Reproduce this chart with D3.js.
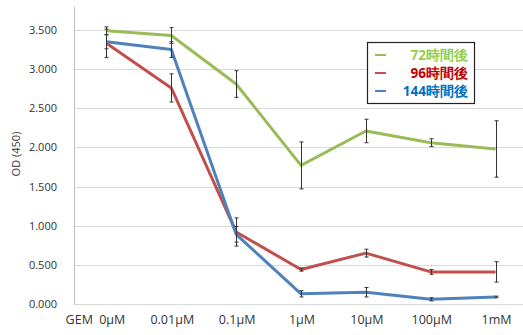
<!DOCTYPE html>
<html><head><meta charset="utf-8">
<script src="https://cdn.jsdelivr.net/npm/d3@7"></script>
<style>body{margin:0;background:#fff}svg{display:block}text{font-family:"Open Sans","Noto Sans",sans-serif}</style>
</head><body>
<svg id="c" width="523" height="335"></svg>
<script>
const categories = ["GEM 0μM","0.01μM","0.1μM","1μM","10μM","100μM","1mM"];
const seriesNames = ["72時間後","96時間後","144時間後"];
const values72 = [3.49,3.43,2.81,1.77,2.21,2.06,1.98];
const errors72 = [0.05,0.10,0.17,0.30,0.15,0.05,0.36];
const values96 = [3.33,2.76,0.92,0.44,0.65,0.41,0.41];
const errors96 = [0.18,0.18,0.18,0.02,0.05,0.03,0.13];
const values144 = [3.35,3.25,0.89,0.13,0.15,0.06,0.09];
const errors144 = [0.09,0.10,0.10,0.04,0.06,0.02,0.01];
const yTicks = [0,0.5,1,1.5,2,2.5,3,3.5];
const yTitle = "OD (450)";

const lineColors = ["#9bbb59","#c0504d","#4f81bd"];
const textColors = ["#92d050","#c00000","#0070c0"];
const series = [
  {name:seriesNames[0], v:values72, e:errors72},
  {name:seriesNames[1], v:values96, e:errors96},
  {name:seriesNames[2], v:values144, e:errors144}
];

const svg = d3.select("#c");
const x = d3.scaleBand().domain(categories).range([74, 528]);
const y = d3.scaleLinear().domain([0, 3.5]).range([304, 30]);
const cx = c => x(c) + x.bandwidth()/2;

// gridlines
svg.append("g").selectAll("line").data(yTicks).join("line")
  .attr("x1",74).attr("x2",523).attr("y1",d=>Math.round(y(d))+0.5).attr("y2",d=>Math.round(y(d))+0.5)
  .attr("stroke","#d9d9d9").attr("stroke-width",1);
// y axis line
svg.append("line").attr("x1",74.5).attr("x2",74.5).attr("y1",7).attr("y2",Math.round(y(0))+0.5)
  .attr("stroke","#bfbfbf");

// y tick labels
const yAxis = d3.axisLeft(y).tickValues(yTicks).tickFormat(d3.format(".3f")).tickSize(0).tickPadding(0);
const ya = svg.append("g").attr("transform","translate(57,0)").call(yAxis);
ya.select(".domain").remove();
ya.selectAll("text").attr("font-size",11).attr("fill","#333").attr("font-family","'Open Sans',sans-serif");

// x tick labels
const xAxis = d3.axisBottom(x).tickSize(0).tickPadding(0);
const xa = svg.append("g").attr("transform","translate(0,315)").call(xAxis);
xa.select(".domain").remove();
xa.selectAll("text").attr("font-size",12.5).attr("fill","#333").attr("font-family","'Open Sans',sans-serif")
  .attr("word-spacing",(d,i)=> i===0 ? 3 : 0)
  .attr("dx",(d,i)=> i===0 ? -11 : 1);

// y title
svg.append("text").attr("transform","translate(20,154) rotate(-90)").attr("text-anchor","middle")
  .attr("font-size",11).attr("fill","#333").text(yTitle);

// lines
const line = d3.line().x((d,i)=>cx(categories[i])).y(d=>y(d));
series.forEach((s,k)=>{
  svg.append("path").datum(s.v).attr("d",line).attr("fill","none")
    .attr("stroke",lineColors[k]).attr("stroke-width",3).attr("stroke-linejoin","round");
});
// error bars
series.forEach((s,k)=>{
  const g = svg.append("g").attr("stroke","#333").attr("stroke-width",1);
  s.v.forEach((v,i)=>{
    const px = Math.round(cx(categories[i]))+0.5;
    const t = y(v+s.e[i]), b = y(v-s.e[i]);
    g.append("line").attr("x1",px).attr("x2",px).attr("y1",t).attr("y2",b);
    g.append("line").attr("x1",px-2).attr("x2",px+2).attr("y1",t).attr("y2",t);
    g.append("line").attr("x1",px-2).attr("x2",px+2).attr("y1",b).attr("y2",b);
  });
});

// legend
const lg = svg.append("g");
lg.append("rect").attr("x",367.5).attr("y",42.5).attr("width",107).attr("height",61)
  .attr("fill","#fff").attr("stroke","#222").attr("stroke-width",1.2);
series.forEach((s,k)=>{
  const yy = 55 + k*18;
  lg.append("line").attr("x1",375).attr("x2",386).attr("y1",yy).attr("y2",yy)
    .attr("stroke",lineColors[k]).attr("stroke-width",2);
  lg.append("text").attr("x",468).attr("y",yy+5).attr("text-anchor","end")
    .attr("font-size",13.5).attr("font-weight","bold").attr("fill",textColors[k])
    .attr("font-family","'Noto Sans CJK JP',sans-serif").text(s.name);
});
</script>
</body></html>
